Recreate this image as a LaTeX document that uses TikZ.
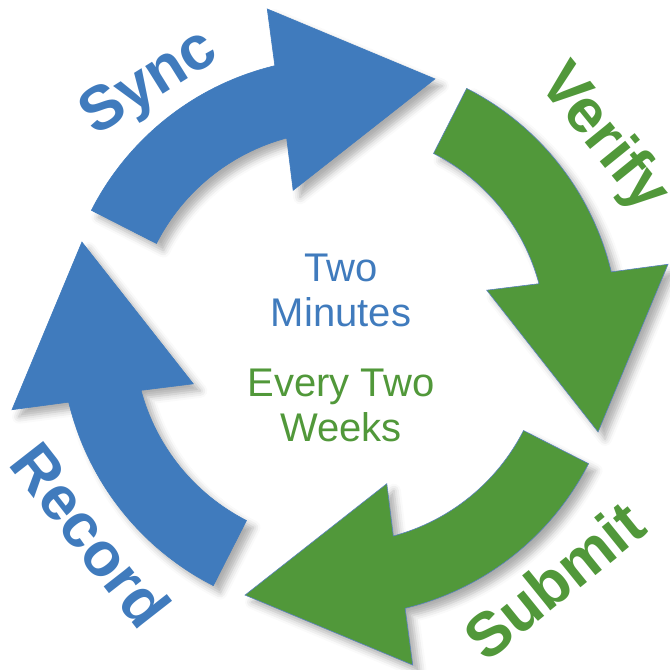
\documentclass[tikz,border=0pt]{standalone}
\usepackage{fontspec}
\setmainfont{Liberation Sans}
\usetikzlibrary{shadows.blur}

\definecolor{syncblue}{RGB}{64,123,189}
\definecolor{loopgreen}{RGB}{81,152,58}
\definecolor{edgeblue}{RGB}{90,130,190}

\tikzset{
    arrowbody/.style={line width=0.6pt, line join=miter,
        blur shadow={shadow xshift=7pt, shadow yshift=-7pt,
                     shadow blur radius=7pt, shadow opacity=32}},
    biglabel/.style={font=\bfseries\fontsize{62}{62}\selectfont, inner sep=0pt},
    midlabel/.style={font=\fontsize{40}{45}\selectfont, align=center, inner sep=0pt}
}

\begin{document}
\begin{tikzpicture}[x=1pt, y=1pt]
    % Fix the frame of the picture
    \useasboundingbox (-340,-333) rectangle (330,337);

    % Centre of the loop
    \coordinate (pO) at (0,0);

    % Draw the four curved arrows, each turned a quarter further
    \foreach \o/\col/\edge in {0/syncblue/syncblue, -90/loopgreen/edgeblue,
                               -180/loopgreen/edgeblue, -270/syncblue/syncblue} {
        \filldraw[arrowbody, fill=\col, draw=\edge]
            ({\o+153}:279) arc[start angle=\o+153, end angle=\o+103.5, radius=279]
            -- ({\o+102.5}:336) -- ({\o+69.8}:275) -- ({\o+107.7}:154)
            -- ({\o+105}:206) arc[start angle=\o+105, end angle=\o+153, radius=206]
            -- cycle;
    }

    % Label the arrows, outside the ring
    \node[biglabel, text=syncblue, rotate=32] (sync) at (127:316) {Sync};
    \node[biglabel, text=loopgreen, rotate=-51] (verify) at (37:329) {Verify};
    \node[biglabel, text=loopgreen, rotate=39] (submit) at (-48.7:324) {Submit};
    \node[biglabel, text=syncblue, rotate=-52] (record) at (218.5:318) {Record};

    % Texts in the middle
    \node[midlabel, text=syncblue] (twomin) at (1,47) {Two\\Minutes};
    \node[midlabel, text=loopgreen] (everytwo) at (1,-68) {Every Two\\Weeks};
\end{tikzpicture}
\end{document}
